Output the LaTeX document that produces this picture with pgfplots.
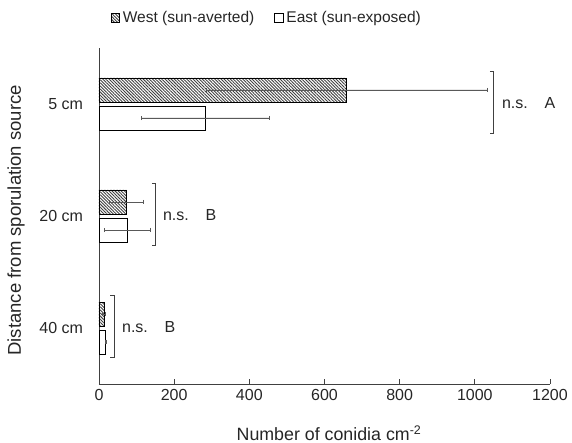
\documentclass[border=0pt]{standalone}
\usepackage{fontspec}
\setmainfont{Liberation Sans}
\usepackage{pgfplots}
\pgfplotsset{compat=1.18}
\usetikzlibrary{patterns.meta}
\definecolor{axisgray}{HTML}{404040}
\definecolor{errgray}{HTML}{595959}
\definecolor{txt}{HTML}{262626}

\begin{document}
\begin{tikzpicture}
\path[use as bounding box] (-99bp,-59bp) rectangle (473bp,384bp);
\begin{axis}[
  scale only axis, width=451bp, height=336bp,
  xbar, bar width=24bp, bar shift=0pt,
  xmin=0, xmax=1200, ymin=-0.5, ymax=2.5,
  xtick={0,200,...,1200}, ytick={0,1,2}, yticklabels={40 cm,20 cm,5 cm},
  axis x line=bottom, axis y line=left,
  axis line style={axisgray,-,line width=0.8bp},
  xtick align=inside, major tick length=5bp, xtick style={axisgray,line width=0.8bp},
  ytick style={draw=none},
  /pgf/number format/assume math mode=true,
  /pgf/number format/1000 sep={},
  xticklabel style={font=\fontsize{16bp}{19bp}\selectfont, text=txt, yshift=-2bp},
  yticklabel style={font=\fontsize{16bp}{19bp}\selectfont, text=txt, xshift=-10bp},
  xlabel={Number of conidia cm\textsuperscript{-2}},
  xlabel style={font=\fontsize{17.8bp}{21bp}\selectfont, text=txt, at={(axis description cs:0.51,-0.146)}, anchor=center},
  ylabel={Distance from sporulation source},
  ylabel style={font=\fontsize{18.5bp}{22bp}\selectfont, text=txt, at={(axis description cs:-0.184,0.487)}, anchor=center},
  legend style={at={(axis description cs:0.372,1.089)}, anchor=center, draw=none, fill=none,
    legend columns=-1, font=\fontsize{15.5bp}{18bp}\selectfont, text=txt,
    /tikz/every even column/.append style={column sep=18bp}},
  legend image code/.code={\draw[#1,line width=0.6bp] (0bp,-4.5bp) rectangle (8.5bp,4.5bp);},
  error bars/error bar style={errgray,line width=0.7bp},
  error bars/error mark options={errgray,line width=0.7bp,mark size=2.2bp,rotate=90},
  clip=false,
]
\addplot[draw=black, line width=0.6bp, pattern={Lines[angle=-45,distance=2.2bp,line width=0.9bp]}, pattern color=black!75,
  error bars/.cd, x dir=both, x explicit]
  coordinates {(659,2.125) +- (373,0) (73,1.125) +- (46,0) (13,0.125) +- (3,0)};
\addplot[draw=black, line width=0.6bp, fill=white,
  error bars/.cd, x dir=both, x explicit]
  coordinates {(284,1.875) +- (170,0) (75,0.875) +- (62,0) (18,-0.125) +- (2,0)};
\legend{\hspace{1bp}West (sun-averted),\hspace{1bp}East (sun-exposed)}
\draw[axisgray, line width=0.8bp] (1040,2.29) -- (1050,2.29) -- (1050,1.74) -- (1040,1.74);
\draw[axisgray, line width=0.8bp] (141,1.29) -- (151,1.29) -- (151,0.74) -- (141,0.74);
\draw[axisgray, line width=0.8bp] (30,0.29) -- (40,0.29) -- (40,-0.26) -- (30,-0.26);
\node[anchor=west, text=txt, font=\fontsize{16bp}{19bp}\selectfont, inner sep=0pt] at (1072,2.01) {n.s.\hspace{1.05em}A};
\node[anchor=west, text=txt, font=\fontsize{16bp}{19bp}\selectfont, inner sep=0pt] at (170,1.01) {n.s.\hspace{1.05em}B};
\node[anchor=west, text=txt, font=\fontsize{16bp}{19bp}\selectfont, inner sep=0pt] at (61,0.01) {n.s.\hspace{1.05em}B};
\end{axis}
\end{tikzpicture}
\end{document}
